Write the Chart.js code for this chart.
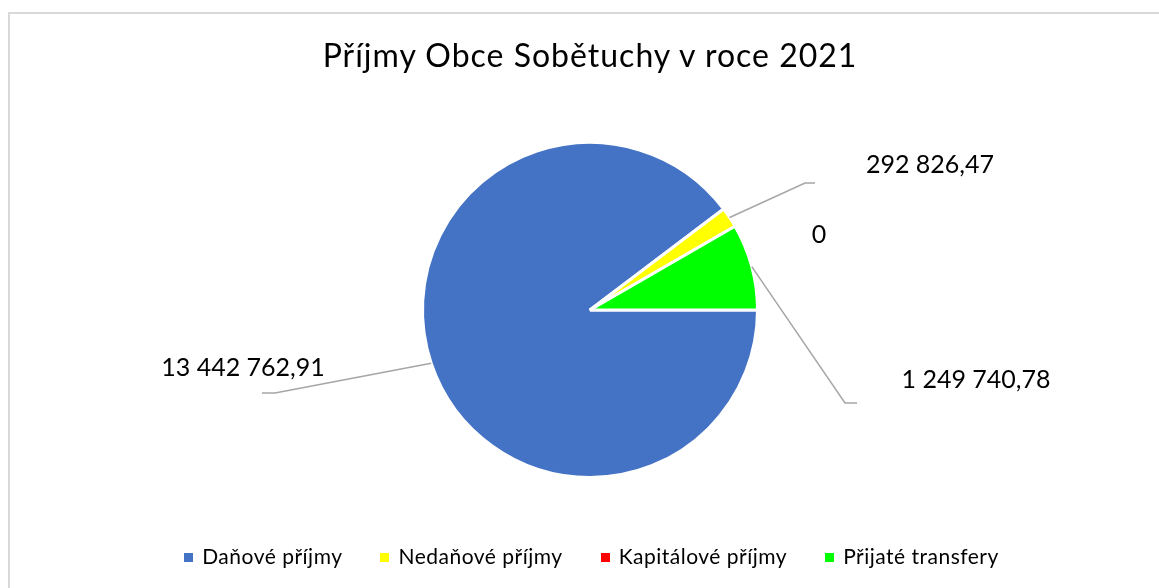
<!DOCTYPE html>
<html>
<head>
<meta charset="utf-8">
<script src="https://cdn.jsdelivr.net/npm/chart.js@4/dist/chart.umd.min.js"></script>
<style>
  html, body { margin: 0; padding: 0; background: #fff; }
  #wrap { position: relative; width: 1159px; height: 588px; overflow: hidden; font-family: Lato, "Open Sans", sans-serif; }
  #frame { position: absolute; left: 8px; top: 12px; right: -10px; bottom: -10px; border-left: 2px solid #d9d9d9; border-top: 2px solid #d9d9d9; }
  #title { position: absolute; left: 0; width: 1180px; top: 35px; text-align: center; font-size: 32px; letter-spacing: 1px; color: #000; white-space: nowrap; }
  #legend { position: absolute; left: 0; width: 1183px; top: 543px; text-align: center; font-size: 21px; letter-spacing: 0.5px; color: #000; white-space: nowrap; }
  .item { display: inline-block; margin: 0 19px; }
  .sw { display: inline-block; width: 9px; height: 9px; margin-right: 9px; vertical-align: 2px; }
  canvas { position: absolute; left: 0; top: 0; }
</style>
</head>
<body>
<div id="wrap">
  <div id="frame"></div>
  <canvas id="c" width="1159" height="588"></canvas>
  <div id="title">Příjmy Obce Sobětuchy v roce 2021</div>
  <div id="legend"></div>
</div>
<script>
const categories = ["Daňové příjmy", "Nedaňové příjmy", "Kapitálové příjmy", "Přijaté transfery"];
const values = [13442762.91, 292826.47, 0, 1249740.78];
const valueLabels = ["13 442 762,91", "292 826,47", "0", "1 249 740,78"];
const colors = ["#4472C4", "#FFFF00", "#FF0000", "#00FF00"];

// label layout (offsets from pie centre, in px) and leader-line elbows
const labelPos = [[-347, 58], [340, -145], [229, -75], [386, 70]];
const elbows = [[[-315, 83], [-328, 83]], [[215, -127], [225, -127]], null, [[255, 93], [267, 93]]];

const legendEl = document.getElementById('legend');
categories.forEach((c, i) => {
  const s = document.createElement('span');
  s.className = 'item';
  s.innerHTML = '<span class="sw" style="background:' + colors[i] + '"></span>' + c;
  legendEl.appendChild(s);
});

const labelPlugin = {
  id: 'outLabels',
  afterDatasetsDraw(chart) {
    const ctx = chart.ctx;
    const meta = chart.getDatasetMeta(0);
    ctx.save();
    meta.data.forEach((arc, i) => {
      const cx = arc.x, cy = arc.y, r = arc.outerRadius;
      const mid = (arc.startAngle + arc.endAngle) / 2;
      if (elbows[i]) {
        ctx.beginPath();
        ctx.strokeStyle = '#a6a6a6';
        ctx.lineWidth = 1.5;
        ctx.moveTo(cx + Math.cos(mid) * r, cy + Math.sin(mid) * r);
        elbows[i].forEach(p => ctx.lineTo(cx + p[0], cy + p[1]));
        ctx.stroke();
      }
      ctx.fillStyle = '#000';
      ctx.font = '25px Lato, "Open Sans", sans-serif';
      ctx.textAlign = 'center';
      ctx.textBaseline = 'middle';
      ctx.fillText(valueLabels[i], cx + labelPos[i][0], cy + labelPos[i][1]);
    });
    ctx.restore();
  }
};

new Chart(document.getElementById('c'), {
  type: 'pie',
  data: {
    labels: categories,
    datasets: [{
      data: values,
      backgroundColor: colors,
      borderColor: '#ffffff',
      borderWidth: 3,
      hoverOffset: 0
    }]
  },
  options: {
    responsive: false,
    animation: false,
    rotation: 90,
    layout: { padding: { left: 421, right: 400, top: 141, bottom: 109 } },
    plugins: {
      legend: { display: false },
      title: { display: false },
      tooltip: { enabled: false }
    }
  },
  plugins: [labelPlugin]
});
</script>
</body>
</html>
